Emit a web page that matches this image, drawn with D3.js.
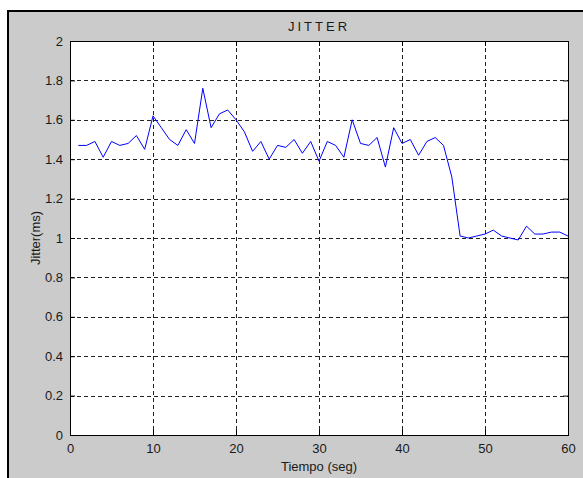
<!doctype html>
<html lang="en">
<head>
  <meta charset="utf-8" />
  <title>JITTER</title>
  <script src="https://d3js.org/d3.v7.min.js"></script>
  <style>
    body { margin: 0; background: #fff; }
    svg { display: block; }
    text { font-family: "Liberation Sans", Arial, sans-serif; fill: #1a1a1a; }
  </style>
</head>
<body>
  <div id="chart"></div>
  <script>
    // seconds and jitter values
    const seconds = d3.range(1, 61);
    const jitter = [
      1.47, 1.47, 1.49, 1.41, 1.49, 1.47, 1.48, 1.52, 1.45, 1.62,
      1.56, 1.50, 1.47, 1.55, 1.48, 1.76, 1.56, 1.63, 1.65, 1.60,
      1.54, 1.44, 1.49, 1.40, 1.47, 1.46, 1.50, 1.43, 1.49, 1.39,
      1.49, 1.47, 1.41, 1.60, 1.48, 1.47, 1.51, 1.36, 1.56, 1.48,
      1.50, 1.42, 1.49, 1.51, 1.47, 1.31, 1.01, 1.00, 1.01, 1.02,
      1.04, 1.01, 1.00, 0.99, 1.06, 1.02, 1.02, 1.03, 1.03, 1.01
    ];
    const xTicks = [0, 10, 20, 30, 40, 50, 60];
    const yTicks = [0, 0.2, 0.4, 0.6, 0.8, 1, 1.2, 1.4, 1.6, 1.8, 2];

    const width = 583, height = 478;
    const plotL = 70, plotR = 568, plotT = 41, plotB = 435;

    const svg = d3.select("#chart").append("svg")
      .attr("width", width)
      .attr("height", height);

    // figure background with the window frame
    svg.append("rect")
      .attr("x", 7).attr("y", 10)
      .attr("width", width - 7).attr("height", height - 10)
      .attr("fill", "#cbcbcb");
    svg.append("path")
      .attr("d", `M8,${height} V11 H${width}`)
      .attr("fill", "none")
      .attr("stroke", "#000")
      .attr("stroke-width", 2);

    const x = d3.scaleLinear().domain([0, 60]).range([plotL, plotR]);
    const y = d3.scaleLinear().domain([0, 2]).range([plotB, plotT]);

    svg.append("rect")
      .attr("x", plotL).attr("y", plotT)
      .attr("width", plotR - plotL).attr("height", plotB - plotT)
      .attr("fill", "#fff");

    // grid
    svg.append("g")
      .selectAll("line")
      .data(xTicks.slice(1, -1))
      .join("line")
      .attr("x1", d => Math.round(x(d)) + 0.5)
      .attr("x2", d => Math.round(x(d)) + 0.5)
      .attr("y1", plotT).attr("y2", plotB)
      .attr("stroke", "#222")
      .attr("stroke-dasharray", "4,3");
    svg.append("g")
      .selectAll("line")
      .data(yTicks.slice(1, -1))
      .join("line")
      .attr("y1", d => Math.round(y(d)) + 0.5)
      .attr("y2", d => Math.round(y(d)) + 0.5)
      .attr("x1", plotL).attr("x2", plotR)
      .attr("stroke", "#222")
      .attr("stroke-dasharray", "4,3");

    // axes
    const xAxis = d3.axisBottom(x).tickValues(xTicks).tickSize(-5).tickPadding(9).tickFormat(d3.format("d"));
    const yAxis = d3.axisLeft(y).tickValues(yTicks).tickSize(-5).tickPadding(7).tickFormat(d => d3.format("~g")(d));
    const xTop = d3.axisTop(x).tickValues(xTicks).tickSize(-5).tickFormat("");
    const yRight = d3.axisRight(y).tickValues(yTicks).tickSize(-5).tickFormat("");

    function style(g) {
      g.select(".domain").remove();
      g.selectAll(".tick line").attr("stroke", "#000");
      g.selectAll(".tick text")
        .style("font-family", "'Liberation Sans', Arial, sans-serif")
        .style("font-size", "13px")
        .attr("fill", "#1a1a1a");
    }
    svg.append("g").attr("transform", `translate(0,${plotB})`).call(xAxis).call(style);
    svg.append("g").attr("transform", `translate(${plotL},0)`).call(yAxis).call(style);
    svg.append("g").attr("transform", `translate(0,${plotT})`).call(xTop).call(style);
    svg.append("g").attr("transform", `translate(${plotR},0)`).call(yRight).call(style);

    svg.append("rect")
      .attr("x", plotL + 0.5).attr("y", plotT + 0.5)
      .attr("width", plotR - plotL).attr("height", plotB - plotT)
      .attr("fill", "none")
      .attr("stroke", "#000");

    // data line
    const line = d3.line()
      .x((d, i) => x(seconds[i]))
      .y(d => y(d));
    svg.append("path")
      .datum(jitter)
      .attr("d", line)
      .attr("fill", "none")
      .attr("stroke", "#0000ff")
      .attr("stroke-width", 1);

    // labels
    svg.append("text")
      .attr("x", (plotL + plotR) / 2).attr("y", 31)
      .attr("text-anchor", "middle")
      .style("font-size", "13px")
      .style("letter-spacing", "3px")
      .text("JITTER");
    svg.append("text")
      .attr("x", (plotL + plotR) / 2).attr("y", 471)
      .attr("text-anchor", "middle")
      .style("font-size", "13px")
      .text("Tiempo (seg)");
    svg.append("text")
      .attr("transform", `translate(40,${(plotT + plotB) / 2}) rotate(-90)`)
      .attr("text-anchor", "middle")
      .style("font-size", "13px")
      .text("Jitter(ms)");
  </script>
</body>
</html>
